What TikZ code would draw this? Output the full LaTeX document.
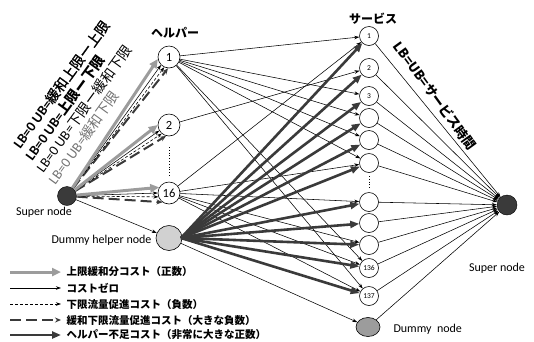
\documentclass[tikz,border=0pt]{standalone}
\usepackage{fontspec}
\setmainfont{Carlito}
\newfontfamily\jp{Noto Sans CJK JP}
\newfontfamily\jpm[FakeBold=1.2]{Noto Sans CJK JP}
\usetikzlibrary{arrows.meta,shapes.geometric}
\definecolor{dk}{HTML}{3A3A3A}
\definecolor{lg}{HTML}{9C9C9C}
\begin{document}
\begin{tikzpicture}[x=1pt,y=-1pt,
  hnode/.style={circle,draw,line width=0.6pt,minimum size=22pt,inner sep=0pt,fill=white,font=\fontsize{12.5}{12.5}\selectfont},
  snode/.style={circle,draw,line width=0.6pt,minimum size=19pt,inner sep=0pt,fill=white,font=\fontsize{7.5}{7.5}\selectfont},
  supern/.style={circle,draw=black,fill=dk,minimum size=19pt,inner sep=0pt},
  zeroarr/.style={line width=0.55pt,-{Stealth[length=5pt,width=3.5pt]}},
  grayarr/.style={line width=3pt,draw=lg,-{Triangle[length=9pt,width=8pt,fill=lg]}},
  dasharr/.style={line width=0.6pt,dash pattern=on 3pt off 2pt,-{Stealth[length=5pt,width=3.5pt]}},
  ldasharr/.style={line width=2pt,draw=dk,dash pattern=on 11pt off 5pt,-{Stealth[length=6pt,width=5pt,fill=dk]}},
  thickarr/.style={line width=2.6pt,draw=dk,-{Triangle[length=9pt,width=7pt,fill=dk]}},
  lab/.style={font=\fontsize{12}{12}\selectfont},
  jlab/.style={font=\jp\bfseries\fontsize{12}{12}\selectfont},
  rlab/.style={anchor=west,rotate=54,font=\fontsize{14}{14}\selectfont},
  leg/.style={anchor=west,font=\jp\bfseries\fontsize{10.5}{10.5}\selectfont}
]
\useasboundingbox (0,0) rectangle (534,341);

% nodes
\node[supern] (S) at (67,196) {};
\node[hnode] (h1) at (169,57) {1};
\node[hnode] (h2) at (169,125) {2};
\node[hnode] (h16) at (169,193) {16};
\node[ellipse,draw,line width=0.6pt,fill=black!18,minimum width=26pt,minimum height=25pt,inner sep=0pt] (dh) at (169,238) {};
\node[snode] (s1) at (369,36) {1};
\node[snode] (s2) at (369,68) {2};
\node[snode] (s3) at (369,96) {3};
\node[snode] (s4) at (369,118) {};
\node[snode] (s5) at (369,140) {};
\node[snode] (s6) at (369,163) {};
\node[snode] (s7) at (369,202) {};
\node[snode] (s8) at (369,223) {};
\node[snode] (s9) at (369,245) {};
\node[snode] (s136) at (369,268) {136};
\node[snode] (s137) at (369,296) {137};
\node[ellipse,draw,line width=0.6pt,fill=lg,minimum width=24pt,minimum height=19pt,inner sep=0pt] (dn) at (368,327) {};
\node[supern,minimum size=20pt] (T) at (507,205) {};

% dots
\draw[dotted,line width=0.8pt] (169,147) -- (169,177);
\draw[dotted,line width=0.8pt] (369,176) -- (369,189);

% headers and labels
\node[jlab] (hh) at (175,33) {ヘルパー};
\node[jlab] (sh) at (373,19) {サービス};
\node[lab] (sl) at (44,212) {Super node};
\node[lab,anchor=east] (dhl) at (155,240) {Dummy helper node};
\node[lab] (tl) at (497,268) {Super node};
\node[lab,anchor=west] (dnl) at (390,329) {Dummy\ \ node};

\node[rlab] (r1) at (14,149) {\bfseries LB=0 UB={\jpm\mdseries 緩和上限ー上限}};
\node[rlab] (r2) at (26,161) {\bfseries LB=0 UB={\jp 上限ー下限}};
\node[rlab] (r3) at (37,173) {LB=0 UB={\jp 下限ー緩和下限}};
\node[rlab,text=black!55] (r4) at (49,185) {LB=0 UB={\jp 緩和下限}};
\node[rotate=-54,font=\jp\bfseries\fontsize{13}{13}\selectfont] (rr) at (435,96) {LB=UB=サービス時間};

% super -> helpers
\foreach \h/\a/\b/\c/\d in {h1/190/225/245/265, h2/180/210/230/255, h16/150/180/200/235}{
  \draw[ldasharr] (S) -- (\h.\d);
  \draw[dasharr] (S) -- (\h.\c);
  \draw[zeroarr] (S) -- (\h.\b);
  \draw[grayarr] (S) -- (\h.\a);
}
\draw[zeroarr] (S) -- (dh);

% helpers -> services
\foreach \t in {s1,s3,s4,s5,s6,s136,s137}{\draw[zeroarr] (h1) -- (\t);}
\draw[zeroarr] (h2) -- (s2);
\foreach \t in {s1,s6,s7,s9,s136,s137}{\draw[zeroarr] (h16) -- (\t);}
\draw[zeroarr] (dh) -- (dn);

% dummy helper -> services
\coordinate (o) at (181,238);
\foreach \t in {s1,s2,s3,s4,s5,s6,s7,s8,s9,s136,s137}{\draw[thickarr] (o) -- (\t);}

% services -> super
\foreach \t in {s1,s2,s3,s4,s5,s6,s7,s8,s9,s136,s137,dn}{\draw[zeroarr] (\t) -- (T);}

% legend
\foreach \y/\st/\txt [count=\i] in {272/grayarr/上限緩和分コスト（正数）, 288/zeroarr/コストゼロ, 304/dasharr/下限流量促進コスト（負数）, 320/ldasharr/緩和下限流量促進コスト（大きな負数）, 335/thickarr/ヘルパー不足コスト（非常に大きな正数）}{
  \coordinate (la\i) at (10,\y);
  \coordinate (lb\i) at (61,\y);
  \draw[\st] (la\i) -- (lb\i);
  \node[leg] (lt\i) at (63,\y) {\txt};
}
\end{tikzpicture}
\end{document}
